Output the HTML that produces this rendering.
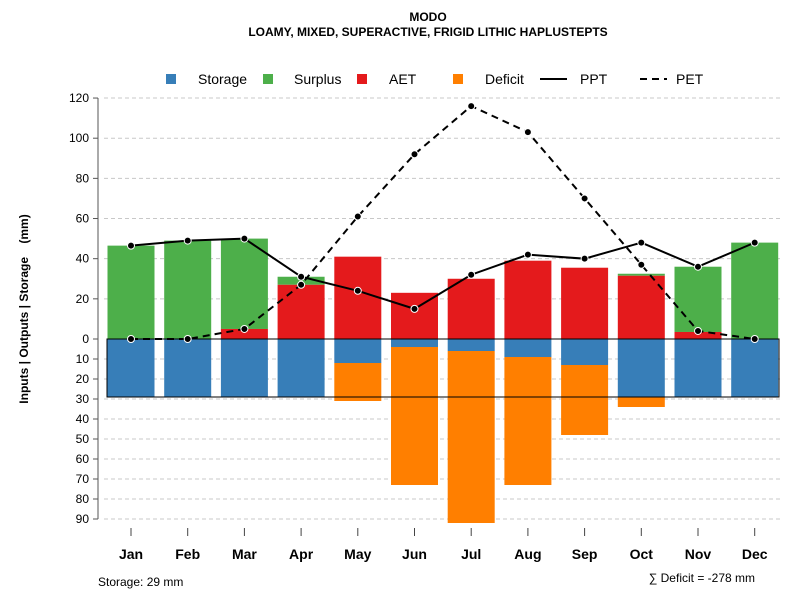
<!DOCTYPE html>
<html><head><meta charset="utf-8"><style>
body{margin:0;background:#fff;}
svg{display:block;font-family:"Liberation Sans",Arial,sans-serif;}
</style></head><body>
<svg id="chart" width="800" height="600" viewBox="0 0 800 600">
<text x="428" y="21" text-anchor="middle" font-size="12" font-weight="bold">MODO</text>
<text x="428" y="36" text-anchor="middle" font-size="12" font-weight="bold">LOAMY, MIXED, SUPERACTIVE, FRIGID LITHIC HAPLUSTEPTS</text>
<g id="legend" font-size="14">
<rect x="166" y="74" width="10" height="10" fill="#377eb8"/>
<text x="198" y="84">Storage</text>
<rect x="263" y="74" width="10" height="10" fill="#4daf4a"/>
<text x="294" y="84">Surplus</text>
<rect x="357" y="74" width="10" height="10" fill="#e41a1c"/>
<text x="389" y="84">AET</text>
<rect x="453" y="74" width="10" height="10" fill="#ff7f00"/>
<text x="485" y="84">Deficit</text>
<line x1="540" y1="79" x2="567" y2="79" stroke="#000" stroke-width="2"/>
<text x="580" y="84">PPT</text>
<line x1="640" y1="79" x2="667" y2="79" stroke="#000" stroke-width="2" stroke-dasharray="7,5"/>
<text x="676" y="84">PET</text>
</g>
<text transform="translate(28,309) rotate(-90)" text-anchor="middle" font-size="12" font-weight="bold" xml:space="preserve">Inputs | Outputs | Storage    (mm)</text>
<text x="98" y="586" font-size="12">Storage: 29 mm</text>
<text x="755" y="582" text-anchor="end" font-size="12">∑ Deficit = -278 mm</text>
</svg>
<script>
const months=["Jan","Feb","Mar","Apr","May","Jun","Jul","Aug","Sep","Oct","Nov","Dec"];
const ppt=[46.5,49,50,31,24,15,32,42,40,48,36,48];
const pet=[0,0,5,27,61,92,116,103,70,37,4,0];
const aet=[0,0,5,27,41,23,30,39,35.5,31.5,3.5,0];
const surplus=[46.5,49,45,4,0,0,0,0,0,1,32.5,48];
const storage=[29,29,29,29,12,4,6,9,13,29,29,29];
const deficit=[0,0,0,0,19,69,86,64,35,5,0,0];
const upTicks=[0,20,40,60,80,100,120];
const downTicks=[10,20,30,40,50,60,70,80,90];
const maxStorage=29;

const svg=document.getElementById('chart');
const NS='http://www.w3.org/2000/svg';
const y0=339, ppm=2.008;
const yUp=v=>y0-v*ppm;
const yDown=v=>y0+v*2.0;
const xC=i=>131+i*56.7;
const bw=47, left=98, right=780;
function mk(tag,attrs){const e=document.createElementNS(NS,tag);for(const k in attrs)e.setAttribute(k,attrs[k]);svg.appendChild(e);return e;}

upTicks.forEach(t=>{
 const y=yUp(t);
 if(t>0){const g=mk('line',{x1:104,x2:right,y1:y,y2:y,stroke:'#c8c8c8','stroke-dasharray':'4,3'});
 
 }
 const tk=mk('line',{x1:left-5,x2:left,y1:y,y2:y,stroke:'#555'});
 
 
 const l=mk('text',{x:left-9,y:y+4,'text-anchor':'end','font-size':12});l.textContent=t;
 
 
});
downTicks.forEach(t=>{
 const y=yDown(t);
 const g=mk('line',{x1:104,x2:right,y1:y,y2:y,stroke:'#c8c8c8','stroke-dasharray':'4,3'});
 
 
 const tk=mk('line',{x1:left-5,x2:left,y1:y,y2:y,stroke:'#555'});
 
 
 const l=mk('text',{x:left-9,y:y+4,'text-anchor':'end','font-size':12});l.textContent=t;
 
 
});
const ax=mk('line',{x1:left,x2:left,y1:yUp(120),y2:yDown(90),stroke:'#555'});



months.forEach((m,i)=>{
 const x=xC(i);
 function bar(top,bot,col,name){const r=mk('rect',{x:x-bw/2,y:Math.min(top,bot),width:bw,height:Math.abs(bot-top),fill:col});
  
  }
 if(surplus[i]>0)bar(yUp(aet[i]+surplus[i]),yUp(aet[i]),'#4daf4a','bar-surplus');
 if(aet[i]>0)bar(yUp(aet[i]),y0,'#e41a1c','bar-aet');
 bar(y0,yDown(storage[i]),'#377eb8','bar-storage');
 if(deficit[i]>0)bar(yDown(storage[i]),yDown(storage[i]+deficit[i]),'#ff7f00','bar-deficit');
 const tk=mk('line',{x1:x,x2:x,y1:528,y2:536,stroke:'#444'});
 
 
 const l=mk('text',{x:x,y:559,'text-anchor':'middle','font-size':14,'font-weight':'bold'});l.textContent=m;
 
 
});
const sb=mk('rect',{x:107,y:y0,width:672,height:yDown(maxStorage)-y0,fill:'none',stroke:'#000'});



function series(vals,dash,name){
 const p=mk('polyline',{points:vals.map((v,i)=>xC(i)+','+yUp(v)).join(' '),fill:'none',stroke:'#000','stroke-width':2,'stroke-dasharray':dash});
 
 
 vals.forEach((v,i)=>{const c=mk('circle',{cx:xC(i),cy:yUp(v),r:3.5,fill:'#000',stroke:'#fff','stroke-width':1});
  
  });
}
series(pet,'7,5','pet');
series(ppt,'none','ppt');
</script>
</body></html>
